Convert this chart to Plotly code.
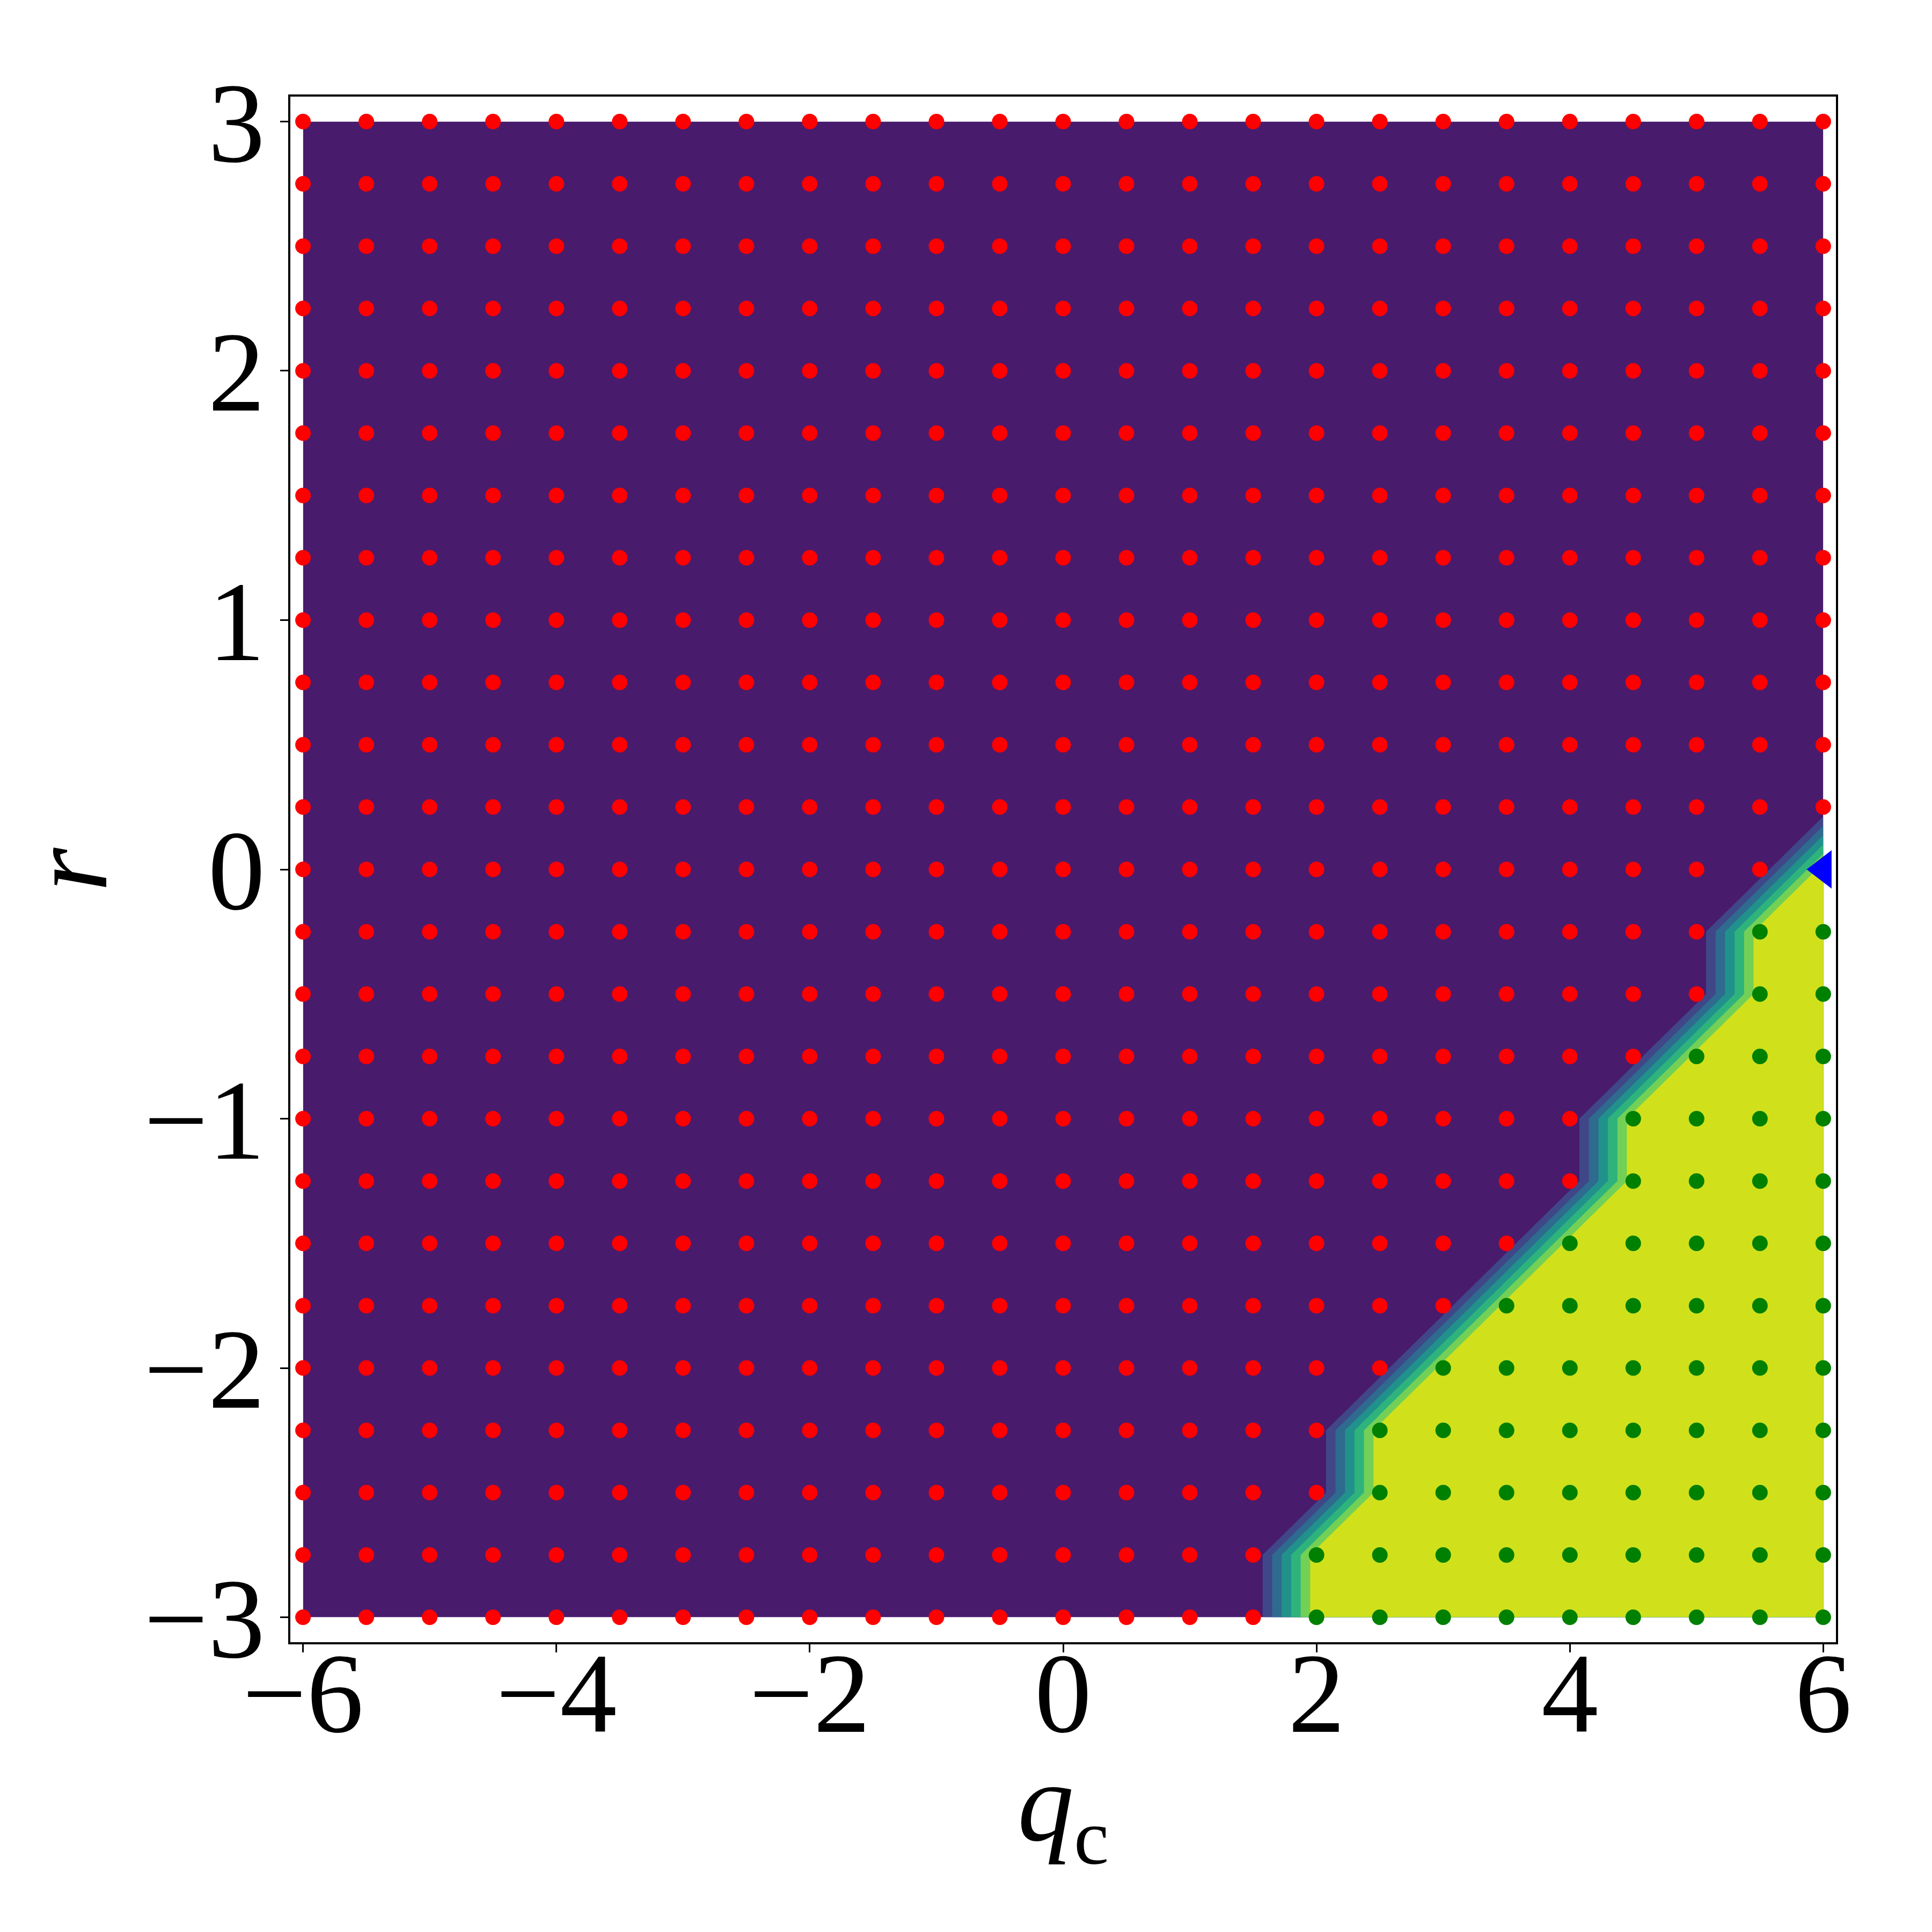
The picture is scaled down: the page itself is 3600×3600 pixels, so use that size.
import plotly.graph_objects as go

# grid of the scan
qc_values = [-6.0, -5.5, -5.0, -4.5, -4.0, -3.5, -3.0, -2.5, -2.0, -1.5, -1.0, -0.5,
             0.0, 0.5, 1.0, 1.5, 2.0, 2.5, 3.0, 3.5, 4.0, 4.5, 5.0, 5.5, 6.0]
r_values = [-3.0, -2.75, -2.5, -2.25, -2.0, -1.75, -1.5, -1.25, -1.0, -0.75, -0.5, -0.25,
            0.0, 0.25, 0.5, 0.75, 1.0, 1.25, 1.5, 1.75, 2.0, 2.25, 2.5, 2.75, 3.0]

# first q_c of each r row that falls in class 1 (None = whole row is class 0)
first_class1_qc = [2.0, 2.0, 2.5, 2.5, 3.0, 3.5, 4.0, 4.5, 4.5, 5.0, 5.5, 5.5, 6.0,
                   None, None, None, None, None, None, None, None, None, None, None, None]

# special point
marker_qc = [6.0]
marker_r = [0.0]

tick_qc = [-6, -4, -2, 0, 2, 4, 6]
tick_r = [-3, -2, -1, 0, 1, 2, 3]

# contourf bands (viridis, matplotlib default levels 0..1.05 step 0.15)
band_colors = ['#481b6d', '#3f4788', '#2e6b8e', '#21918c', '#2eb37c', '#73d056', '#d0e11c']
class_colors = ['red', 'green']

FONT = 'Liberation Serif'

z = [[1 if (t is not None and q >= t) else 0 for q in qc_values] for t in first_class1_qc]

n = len(band_colors) - 1
colorscale = [[i / n, c] for i, c in enumerate(band_colors)]

fig = go.Figure()

fig.add_trace(go.Contour(
    x=qc_values, y=r_values, z=z,
    autocontour=False,
    contours=dict(start=0.15, end=0.9, size=0.15, coloring='fill', showlines=False),
    colorscale=colorscale,
    showscale=False,
    line=dict(width=0, smoothing=0),
    hoverinfo='skip'
))

for cls in (0, 1):
    xs, ys = [], []
    for j, r in enumerate(r_values):
        for i, q in enumerate(qc_values):
            if z[j][i] == cls:
                xs.append(q)
                ys.append(r)
    fig.add_trace(go.Scatter(
        x=xs, y=ys, mode='markers',
        marker=dict(color=class_colors[cls], size=29, line=dict(width=0)),
        showlegend=False
    ))

fig.add_trace(go.Scatter(
    x=marker_qc, y=marker_r, mode='markers',
    marker=dict(color='blue', symbol='triangle-left', size=62, line=dict(width=0)),
    showlegend=False
))

axis_common = dict(
    ticks='outside', ticklen=15, tickwidth=3, tickcolor='black',
    showline=True, mirror=True, linecolor='black', linewidth=3.5,
    showgrid=False, zeroline=False,
    tickfont=dict(family=FONT, size=212, color='black'),
)

# body of the page adds an 8px offset, so margins are trimmed by it
fig.update_layout(
    width=3600, height=3600, autosize=False,
    margin=dict(l=533, r=187, t=172, b=548),
    paper_bgcolor='white', plot_bgcolor='white',
    showlegend=False,
    xaxis=dict(range=[-6.1, 6.1], tickvals=tick_qc, ticklabelstandoff=-106, **axis_common),
    yaxis=dict(range=[-3.1, 3.1], tickvals=tick_r, ticklabelstandoff=-14, **axis_common),
    annotations=[
        dict(text='<i>q</i><sub>c</sub>', xref='paper', yref='paper',
             x=0.5, y=-0.109, xanchor='center', yanchor='middle', showarrow=False,
             font=dict(family=FONT, size=210, color='black')),
        dict(text='<i>r</i>', xref='paper', yref='paper',
             x=-0.1436, y=0.5, xanchor='center', yanchor='middle', showarrow=False,
             textangle=-90, font=dict(family=FONT, size=210, color='black')),
    ]
)

fig.write_html("out.html")
